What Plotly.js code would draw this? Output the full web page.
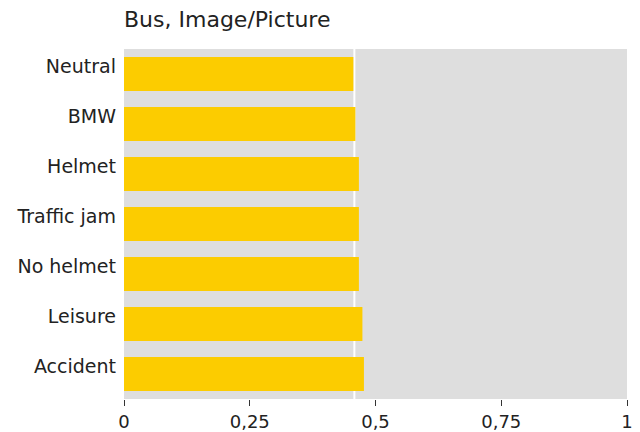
<!DOCTYPE html>
<html>
<head>
<meta charset="utf-8">
<script src="https://cdn.plot.ly/plotly-3.0.1.min.js"></script>
<style>html,body{margin:0;padding:0;background:#fff;}#chart{width:640px;height:432px;}</style>
</head>
<body>
<div id="chart"></div>
<script>
const categories = ["Neutral", "BMW", "Helmet", "Traffic jam", "No helmet", "Leisure", "Accident"];
const values = [0.456, 0.460, 0.467, 0.467, 0.467, 0.474, 0.477];
const referenceValue = [0.458];
const tickValues = [0, 0.25, 0.5, 0.75, 1];
const chartTitle = "Bus, Image/Picture";

const font = "DejaVu Sans, Verdana, sans-serif";

const trace = {
  type: "bar",
  orientation: "h",
  y: categories,
  x: values,
  width: 0.68,
  marker: {color: "#FCCC00", line: {width: 0}},
  hoverinfo: "x+y"
};

const layout = {
  width: 640,
  height: 432,
  margin: {l: 124, r: 13, t: 49, b: 33, pad: 0},
  paper_bgcolor: "#ffffff",
  plot_bgcolor: "#DEDEDE",
  separators: ",.",
  showlegend: false,
  font: {family: font, size: 18, color: "#222222"},
  title: {
    text: chartTitle,
    x: 124 / 640, xref: "container", xanchor: "left",
    y: 1 - 19 / 432, yref: "container", yanchor: "middle",
    font: {family: font, size: 22, color: "#222222"}
  },
  xaxis: {
    range: [0, 1],
    tickvals: tickValues,
    showgrid: false,
    zeroline: false,
    showline: false,
    ticks: "outside",
    ticklen: 6,
    tickwidth: 1,
    tickcolor: "#333333",
    tickfont: {family: font, size: 18, color: "#222222"},
    fixedrange: true
  },
  yaxis: {
    type: "category",
    autorange: "reversed",
    showgrid: false,
    zeroline: false,
    showline: false,
    ticks: "",
    ticklabelstandoff: 7,
    ticklabelshift: 8,
    tickfont: {family: font, size: 19, color: "#222222"},
    fixedrange: true
  },
  shapes: [{
    type: "line",
    layer: "below",
    xref: "x", yref: "paper",
    x0: referenceValue[0], x1: referenceValue[0], y0: 0, y1: 1,
    line: {color: "#ffffff", width: 2}
  }]
};

Plotly.newPlot("chart", [trace], layout, {displayModeBar: false, staticPlot: true});
</script>
</body>
</html>
